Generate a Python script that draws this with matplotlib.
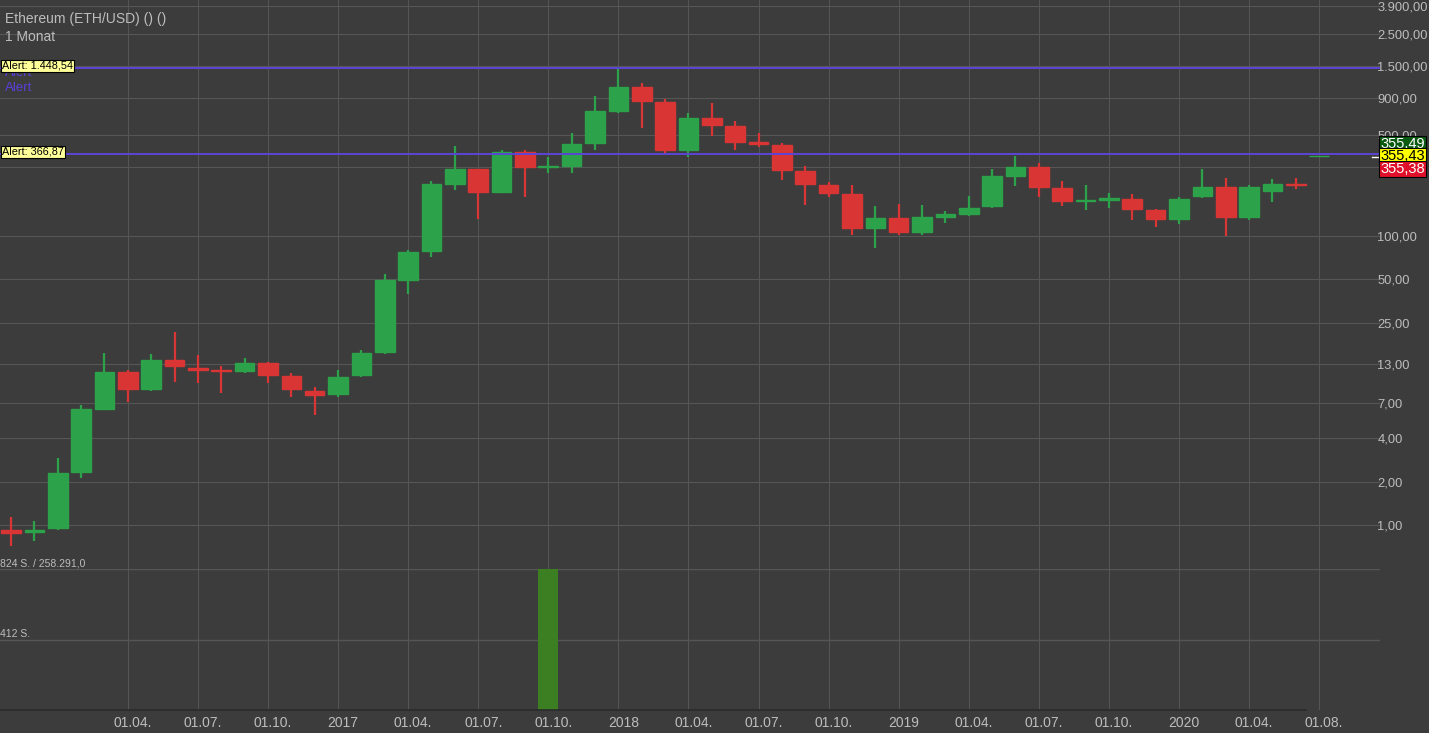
import matplotlib
matplotlib.use("Agg")
import matplotlib.pyplot as plt
import numpy as np

plt.rcParams['font.family'] = ['Liberation Sans', 'DejaVu Sans']

# monthly candles, Nov 2015 .. Jul 2020
months = ['2015-11', '2015-12',
          '2016-01', '2016-02', '2016-03', '2016-04', '2016-05', '2016-06',
          '2016-07', '2016-08', '2016-09', '2016-10', '2016-11', '2016-12',
          '2017-01', '2017-02', '2017-03', '2017-04', '2017-05', '2017-06',
          '2017-07', '2017-08', '2017-09', '2017-10', '2017-11', '2017-12',
          '2018-01', '2018-02', '2018-03', '2018-04', '2018-05', '2018-06',
          '2018-07', '2018-08', '2018-09', '2018-10', '2018-11', '2018-12',
          '2019-01', '2019-02', '2019-03', '2019-04', '2019-05', '2019-06',
          '2019-07', '2019-08', '2019-09', '2019-10', '2019-11', '2019-12',
          '2020-01', '2020-02', '2020-03', '2020-04', '2020-05', '2020-06',
          '2020-07']
opens = [0.93, 0.89,
         0.95, 2.34, 6.4, 11.4, 8.8, 13.9, 12.3, 11.9, 11.7, 13.2, 10.7, 8.5,
         8.1, 10.9, 15.8, 49.6, 79, 230, 289, 203, 379, 300, 307, 438,
         736, 1080, 842, 394, 659, 577, 448, 425, 280, 226, 194, 113,
         133, 107, 136, 141, 161, 262, 299, 214, 174, 178, 180, 151,
         131, 189, 219, 136, 205, 230, 355.38]
highs = [1.14, 1.07,
         2.9, 6.8, 15.6, 11.9, 15.3, 21.8, 15.0, 12.5, 14.4, 13.5, 11.3, 9.0,
         11.9, 16.2, 55, 80, 240, 420, 292, 394, 394, 354, 519, 931,
         1425, 1150, 883, 707, 829, 625, 514, 438, 305, 238, 225, 162,
         166, 165, 150, 189, 290, 358, 322, 241, 224, 199, 194, 153,
         187, 292, 251, 225, 247, 254, 356.5]
lows = [0.72, 0.77,
        0.92, 2.1, 6.3, 7.1, 8.5, 9.8, 9.6, 8.2, 11.2, 9.6, 7.7, 5.8,
        7.7, 10.5, 15.2, 40, 72, 208, 131, 199, 187, 272, 272, 394,
        713, 556, 364, 354, 492, 394, 411, 244, 164, 185, 102, 82,
        102, 102, 124, 137, 156, 222, 187, 161, 151, 156, 129, 115,
        122, 182, 100, 130, 173, 213, 354.5]
closes = [0.88, 0.93,
          2.30, 6.32, 11.4, 8.8, 13.9, 12.6, 11.9, 11.6, 13.2, 11.0, 8.7, 8.0,
          10.6, 15.6, 49.6, 78, 228, 289, 203, 379, 302, 305, 431, 733,
          1080, 859, 394, 659, 587, 445, 432, 286, 229, 197, 113, 133,
          107, 135, 141, 157, 262, 299, 217, 175, 177, 182, 153, 131,
          180, 219, 136, 217, 229, 225, 355.49]
volumes = [0] * len(months)
volumes[months.index('2017-10')] = 824

price_ticks = [1, 2, 4, 7, 13, 25, 50, 100, 300, 500, 900, 1500, 2500, 3900]
price_labels = ['1,00', '2,00', '4,00', '7,00', '13,00', '25,00', '50,00',
                '100,00', '', '500,00', '900,00', '1.500,00', '2.500,00',
                '3.900,00']
date_ticks = ['2016-04', '2016-07', '2016-10', '2017-01', '2017-04', '2017-07',
              '2017-10', '2018-01', '2018-04', '2018-07', '2018-10', '2019-01',
              '2019-04', '2019-07', '2019-10', '2020-01', '2020-04', '2020-07']
date_labels = ['01.04.', '01.07.', '01.10.', '2017', '01.04.', '01.07.',
               '01.10.', '2018', '01.04.', '01.07.', '01.10.', '2019',
               '01.04.', '01.07.', '01.10.', '2020', '01.04.', '01.08.']
alerts = [1448.54, 366.87]
alert_labels = ['Alert: 1.448,54', 'Alert: 366,87']
last_prices = ['355.49', '355,43', '355,38']

W, H = 1429, 733
bg = '#3c3c3c'
grid_c = '#565656'
txt_c = '#bdbdbd'
up_c = '#2ca24a'
dn_c = '#d93535'
px_month = 23.36

fig = plt.figure(figsize=(W / 100, H / 100), dpi=100, facecolor=bg)
ax = fig.add_axes([0, (H - 569) / H, 1380 / W, 569 / H], facecolor=bg)
axv = fig.add_axes([0, (H - 710) / H, 1380 / W, 141 / H], facecolor=bg, sharex=ax)

x = np.arange(len(months))
o = np.array(opens); c = np.array(closes)
hi = np.array(highs); lo = np.array(lows)
cols = [up_c if cc >= oo else dn_c for oo, cc in zip(o, c)]

ax.set_yscale('log')
ax.vlines(x, lo, hi, colors=cols, linewidth=1.6, zorder=3)
ax.bar(x, np.abs(c - o), bottom=np.minimum(o, c), width=0.84,
       color=cols, edgecolor=cols, linewidth=1.0, zorder=4)

for a in alerts:
    ax.axhline(a, color='#5b45d6', linewidth=1.4, zorder=5)

ax.set_xlim(-11 / px_month, (1380 - 11) / px_month)
ax.set_ylim(10 ** (-44 / 144.5), 10 ** (525 / 144.5))
ax.set_yticks(price_ticks)
ax.set_yticklabels(price_labels)
ax.minorticks_off()
ax.yaxis.tick_right()
ax.tick_params(axis='y', length=0, pad=-2, labelcolor=txt_c, labelsize=9.3)
ax.tick_params(axis='x', length=0, labelbottom=False)
ax.grid(True, axis='y', color=grid_c, linewidth=0.8)

tick_pos = [months.index(m) for m in date_ticks]
for ab in (ax, axv):
    for p in tick_pos:
        ab.axvline(p, color=grid_c, linewidth=0.7, zorder=0)
    for s in ab.spines.values():
        s.set_visible(False)

axv.bar(x, volumes, width=0.85, color='#3b7f22', zorder=3)
axv.set_ylim(0, 824)
axv.set_yticks([])
for v in (412, 824):
    axv.axhline(v, color=grid_c, linewidth=1.0, zorder=1)
# labels sit a few pixels right of their grid line
axv.set_xticks([p + 5 / px_month for p in tick_pos])
axv.set_xticklabels(date_labels)
axv.tick_params(axis='x', length=0, pad=4, labelcolor=txt_c, labelsize=10)

# bottom dark axis line
fig.add_artist(plt.Line2D([0, 1306 / W], [(H - 710) / H] * 2,
                          color='#2a2a2a', linewidth=1.2))

# title texts
fig.text(5 / W, 1 - 19 / H, 'Ethereum (ETH/USD) () ()', color=txt_c,
         fontsize=10, va='center', ha='left')
fig.text(5 / W, 1 - 37 / H, '1 Monat', color=txt_c, fontsize=10,
         va='center', ha='left')

# alert labels
fig.text(5 / W, 1 - 73 / H, 'Alert', color='#5b3fd9', fontsize=9.5,
         va='center', ha='left')
fig.text(5 / W, 1 - 88 / H, 'Alert', color='#5b3fd9', fontsize=9.5,
         va='center', ha='left')
for ypix, lab in zip([66, 152], alert_labels):
    fig.text(2 / W, 1 - ypix / H, lab, color='black', fontsize=7.8,
             va='center', ha='left',
             bbox=dict(boxstyle='square,pad=0.12', facecolor='#ffff99',
                       edgecolor='black', linewidth=0.8))

# volume labels
fig.text(0, 1 - 563 / H, '824 S. / 258.291,0', color=txt_c, fontsize=7.5,
         va='center', ha='left')
fig.text(0, 1 - 634 / H, '412 S.', color=txt_c, fontsize=7.5,
         va='center', ha='left')

# last price boxes
box_styles = [('#0b5a12', 'white', 144), ('#ffff00', 'black', 156),
              ('#e0102a', 'white', 169)]
for (fc, tc, ypix), lab in zip(box_styles, last_prices):
    fig.text(1380 / W, 1 - ypix / H, lab, color=tc, fontsize=10.5,
             va='center', ha='left',
             bbox=dict(boxstyle='square,pad=0.08', facecolor=fc,
                       edgecolor='black', linewidth=0.8))
fig.add_artist(plt.Line2D([1372 / W, 1378 / W], [1 - 157 / H] * 2,
                          color='white', linewidth=1.0))

fig.savefig('out.png', dpi=100, facecolor=bg)
